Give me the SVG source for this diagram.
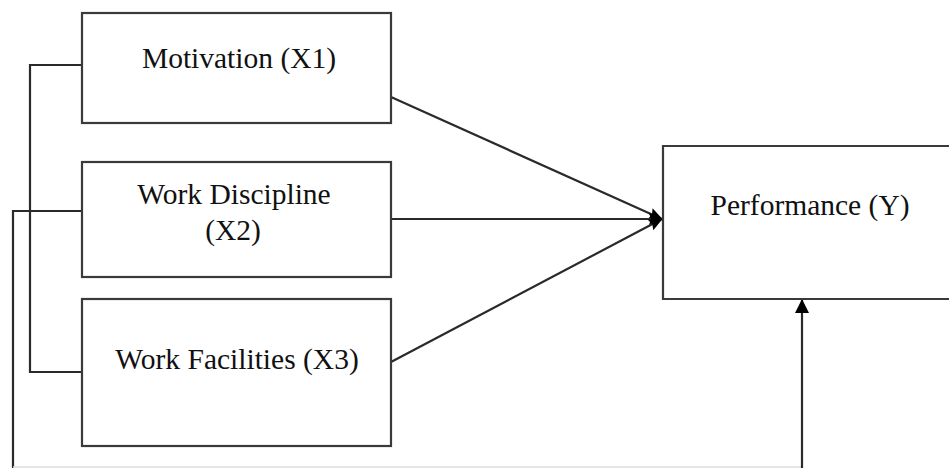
<svg xmlns="http://www.w3.org/2000/svg" width="949" height="468" viewBox="0 0 949 468">
<style>
.box{fill:#fff;stroke:#3a3a3a;stroke-width:2.2}
.ln{fill:none;stroke:#2a2a2a;stroke-width:2.2}
.t{font-family:"Liberation Serif",serif;font-size:29.5px;fill:#111;text-anchor:middle}
</style>
<defs>
<marker id="ah" markerWidth="14" markerHeight="14" refX="13" refY="7" orient="auto" markerUnits="userSpaceOnUse" viewBox="0 0 14 14">
<path d="M0,1 L14,7 L0,13 L2,7 Z" fill="#000"/>
</marker>
<marker id="ah2" markerWidth="14" markerHeight="14" refX="13" refY="7" orient="auto" markerUnits="userSpaceOnUse" viewBox="0 0 14 14">
<path d="M0,0 L14,7 L0,14 Z" fill="#000"/>
</marker>
</defs>
<rect width="949" height="468" fill="#fff"/>
<g id="connectors">
<path class="ln" d="M82,65 H30 V372 H82"/>
<path class="ln" d="M82,211 H13 V468"/>
<line x1="13" y1="467" x2="802" y2="467" stroke="#dcdcdc" stroke-width="1.5"/>
<line class="ln" x1="391" y1="97" x2="662" y2="219" marker-end="url(#ah)"/>
<line class="ln" x1="391" y1="219" x2="662" y2="219" marker-end="url(#ah)"/>
<line class="ln" x1="391" y1="362" x2="662" y2="219" marker-end="url(#ah)"/>
<line class="ln" x1="802" y1="468" x2="802" y2="300" marker-end="url(#ah2)"/>
</g>
<g id="motivation">
<rect class="box" x="82" y="13" width="309" height="110"/>
<text class="t" x="239" y="68">Motivation (X1)</text>
</g>
<g id="discipline">
<rect class="box" x="82" y="162" width="309" height="115"/>
<text class="t" x="234" y="204">Work Discipline</text>
<text class="t" x="233" y="240">(X2)</text>
</g>
<g id="facilities">
<rect class="box" x="82" y="299" width="309" height="147"/>
<text class="t" x="237" y="369">Work Facilities (X3)</text>
</g>
<g id="performance">
<path class="box" d="M951,146 H663 V299 H951"/>
<text class="t" x="810" y="215">Performance (Y)</text>
</g>
</svg>
